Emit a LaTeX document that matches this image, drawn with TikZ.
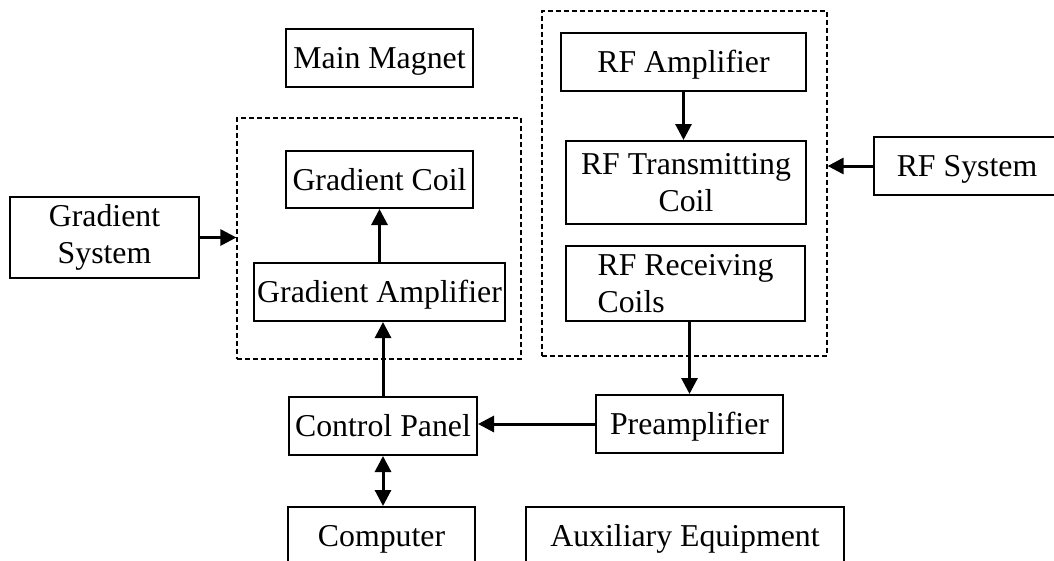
\documentclass[tikz,border=0pt]{standalone}
\usepackage{fontspec}
\setmainfont{Liberation Serif}
\usetikzlibrary{arrows.meta}
\begin{document}
\begin{tikzpicture}[x=1pt,y=-1pt,
  blk/.style={draw, line width=2pt, inner sep=0pt, font=\fontsize{31.8}{37.5}\selectfont, align=center},
  one/.style={text height=21pt, text depth=0pt},
  grp/.style={draw, line width=1.2pt, dash pattern=on 5pt off 3pt, inner sep=0pt},
  arr/.style={line width=3pt, -{Triangle[length=16pt,width=16pt]}},
  darr/.style={line width=3pt, {Triangle[length=16pt,width=16pt]}-{Triangle[length=16pt,width=16pt]}}]
\useasboundingbox (0,0) rectangle (1054,560);
% groups
\node[grp, minimum width=284pt, minimum height=241pt] (gbox) at (379,238.5) {};
\node[grp, minimum width=285pt, minimum height=345pt] (rfbox) at (684.5,183.5) {};
% blocks
\node[blk, one, minimum width=187pt, minimum height=58pt] (mm) at (379.5,58) {Main Magnet};
\node[blk, one, minimum width=187pt, minimum height=57pt] (gc) at (379.5,179.5) {Gradient Coil};
\node[blk, one, minimum width=251pt, minimum height=58pt] (ga) at (379.5,292) {Gradient Amplifier};
\node[blk, minimum width=189pt, minimum height=81pt] (gs) at (104.5,237.5) {\raisebox{-2pt}{\begin{tabular}{@{}c@{}}Gradient\\System\end{tabular}}};
\node[blk, one, minimum width=245pt, minimum height=58pt] (rfa) at (683.5,62) {RF Amplifier};
\node[blk, minimum width=240pt, minimum height=83pt] (rft) at (686,182.5) {RF Transmitting\\Coil};
\node[blk, minimum width=239pt, minimum height=75pt, align=left] (rfr) at (685.5,283.5) {RF Receiving\\Coils};
\node[blk, one, minimum width=186pt, minimum height=58pt] (rfs) at (967,166) {RF System};
\node[blk, one, minimum width=187pt, minimum height=58pt] (pre) at (689.5,424) {Preamplifier};
\node[blk, one, minimum width=188pt, minimum height=58pt] (cp) at (383,426) {Control Panel};
\node[blk, one, minimum width=187pt, minimum height=58pt] (comp) at (381.5,536) {Computer};
\node[blk, one, minimum width=318pt, minimum height=58pt] (aux) at (685,536) {Auxiliary Equipment};
% connectors
\draw[arr] (gs.east) -- (gs.east -| gbox.west);
\draw[arr] (ga.north) -- (gc.south);
\draw[arr] (cp.north) -- (cp.north |- ga.south);
\draw[darr] (cp.south) -- (cp.south |- comp.north);
\draw[arr] (pre.west) -- (pre.west -| cp.east);
\draw[arr] (pre.north |- rfr.south) -- (pre.north);
\draw[arr] (rfa.south) -- (rfa.south |- rft.north);
\draw[arr] (rfs.west) -- (rfs.west -| rfbox.east);
\end{tikzpicture}
\end{document}
